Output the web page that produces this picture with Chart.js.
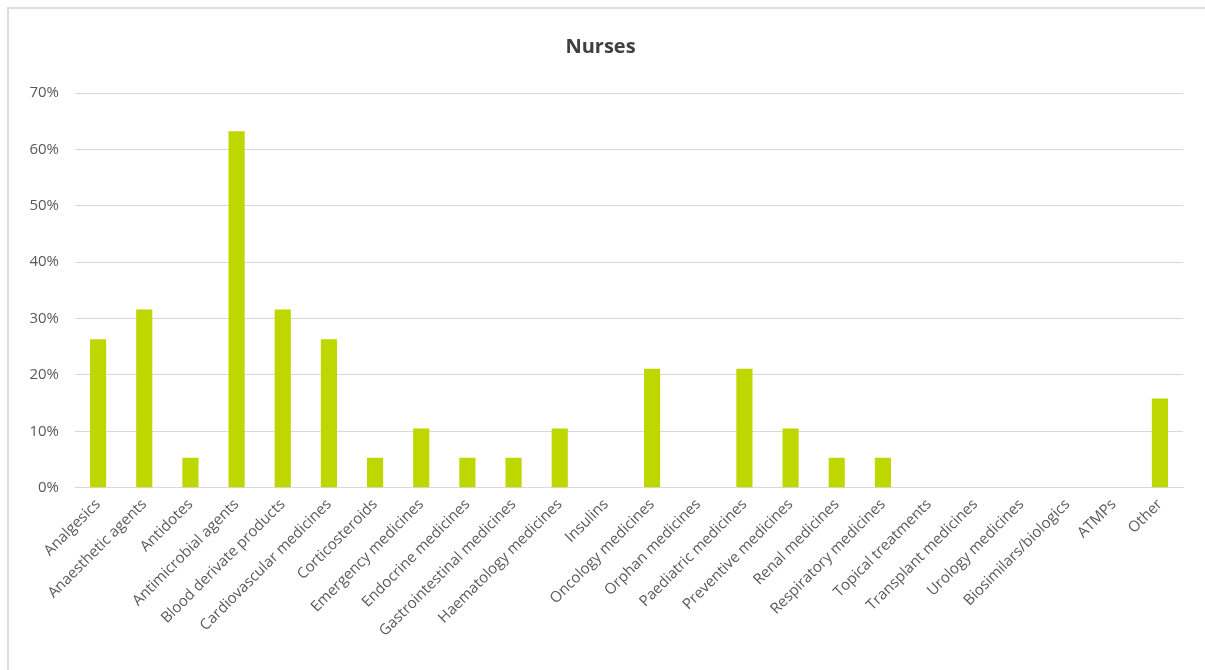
<!DOCTYPE html>
<html>
<head>
<meta charset="utf-8">
<script src="https://cdn.jsdelivr.net/npm/chart.js@4.4.0/dist/chart.umd.min.js"></script>
<style>
  html, body { margin: 0; padding: 0; background: #fff; overflow: hidden; }
  #frame { position: absolute; left: 7px; top: 7px; width: 1240px; height: 700px; border: 2px solid #dcdcdc; box-sizing: border-box; }
  #wrap { position: absolute; left: 0; top: 0; width: 1205px; height: 670px; }
</style>
</head>
<body>
<div id="frame"></div>
<div id="wrap"><canvas id="c" width="1205" height="670"></canvas></div>
<script>
const categories = [
  "Analgesics", "Anaesthetic agents", "Antidotes", "Antimicrobial agents",
  "Blood derivate products", "Cardiovascular medicines", "Corticosteroids",
  "Emergency medicines", "Endocrine medicines", "Gastrointestinal medicines",
  "Haematology medicines", "Insulins", "Oncology medicines", "Orphan medicines",
  "Paediatric medicines", "Preventive medicines", "Renal medicines",
  "Respiratory medicines", "Topical treatments", "Transplant medicines",
  "Urology medicines", "Biosimilars/biologics", "ATMPs", "Other"
];
const nursesPct = [
  26.3, 31.6, 5.3, 63.2, 31.6, 26.3, 5.3, 10.5, 5.3, 5.3, 10.5, 0,
  21.1, 0, 21.1, 10.5, 5.3, 5.3, 0, 0, 0, 0, 0, 15.8
];
const yTicks = [0, 10, 20, 30, 40, 50, 60, 70];

const FONT = "'Open Sans', sans-serif";
new Chart(document.getElementById('c'), {
  type: 'bar',
  data: {
    labels: categories,
    datasets: [{
      label: 'Nurses',
      data: nursesPct,
      backgroundColor: '#bfd700',
      borderWidth: 0,
      barPercentage: 0.35,
      categoryPercentage: 1.0
    }]
  },
  options: {
    responsive: false,
    animation: false,
    layout: { padding: { left: 18, right: 22, top: 35, bottom: 22 } },
    plugins: {
      legend: { display: false },
      tooltip: { enabled: false },
      title: {
        display: true,
        text: 'Nurses',
        color: '#404040',
        font: { family: FONT, size: 20, weight: 'bold' },
        padding: { top: 0, bottom: 34 }
      }
    },
    scales: {
      x: {
        grid: { display: false, drawTicks: false },
        border: { display: true, color: '#d9d9d9', width: 1 },
        ticks: {
          color: '#595959',
          font: { family: FONT, size: 15 },
          maxRotation: 45, minRotation: 45,
          autoSkip: false,
          padding: 8
        }
      },
      y: {
        min: 0, max: 70,
        afterBuildTicks: (axis) => { axis.ticks = yTicks.map(v => ({ value: v })); },
        afterFit: (axis) => { axis.width = 57; },
        grid: { color: '#d9d9d9', drawTicks: false, lineWidth: 1 },
        border: { display: false },
        ticks: {
          color: '#595959',
          font: { family: FONT, size: 15 },
          padding: 16,
          callback: (v) => v + '%'
        }
      }
    }
  }
});
</script>
</body>
</html>
